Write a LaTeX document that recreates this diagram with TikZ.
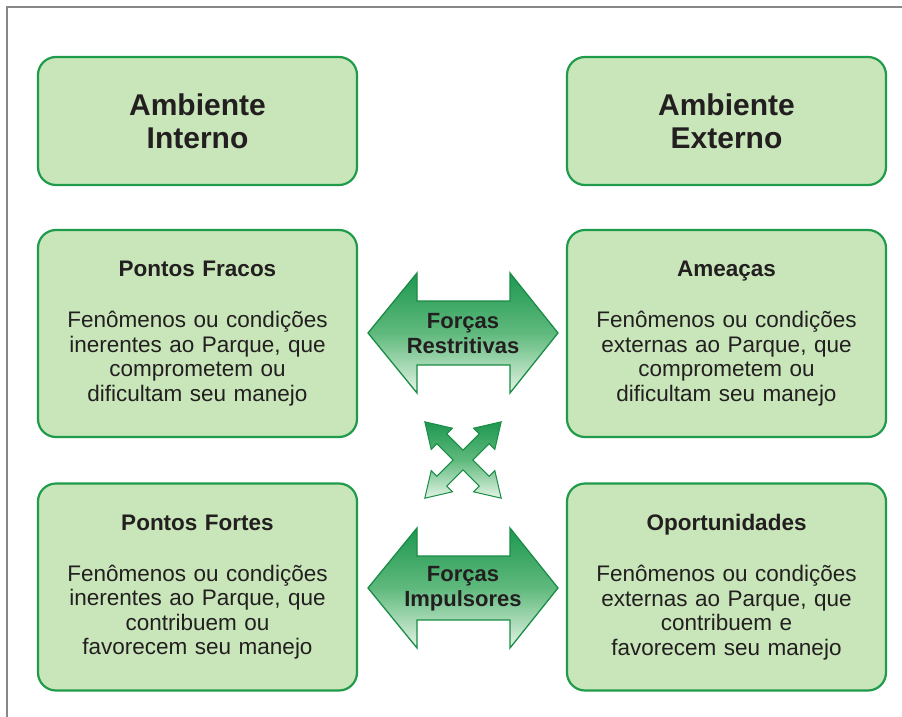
\documentclass[tikz,border=0pt]{standalone}
\usepackage{fontspec}
\setmainfont{Liberation Sans}
\definecolor{boxfill}{RGB}{200,230,185}
\definecolor{boxline}{RGB}{32,155,75}
\definecolor{arrtop}{RGB}{30,152,80}
\definecolor{arrmid}{RGB}{95,185,125}
\definecolor{arrbot}{RGB}{228,244,228}
\definecolor{arrowline}{RGB}{25,140,70}
\definecolor{txt}{RGB}{35,31,32}
\definecolor{framec}{RGB}{135,135,135}
\begin{document}
\begin{tikzpicture}[x=1pt,y=-1pt,
  box/.style={draw=boxline, line width=2.2pt, fill=boxfill, rounded corners=18pt,
    minimum width=319pt, text width=305pt, align=center, inner sep=0pt, text=txt},
  headbox/.style={font=\fontsize{30}{33}\selectfont\bfseries, minimum height=128pt},
  infobox/.style={font=\fontsize{22.5}{24.5}\selectfont, minimum height=207pt},
  force/.style={draw=arrowline, line width=1.3pt, top color=arrtop, bottom color=arrbot, middle color=arrmid},
  forcetext/.style={font=\fontsize{22}{25}\selectfont\bfseries, align=center, text=txt, inner sep=0pt},
  frameline/.style={draw=framec, line width=1.8pt},
  xf/.style={shift={(463,460)}, rotate=45}
]
\useasboundingbox (0,0) rectangle (902,717);
\draw[frameline] (7,717) -- (7,7) -- (902,7);

% top boxes
\node[box,headbox] (ai) at (197.5,121) {Ambiente\\Interno};
\node[box,headbox] (ae) at (726.5,121) {Ambiente\\Externo};

% middle boxes
\node[box,infobox] (pfr) at (197.5,333.5) {\textbf{Pontos Fracos}\\[26.5pt]Fenômenos ou condições\\inerentes ao Parque, que\\comprometem ou\\dificultam seu manejo};
\node[box,infobox] (am) at (726.5,333.5) {\textbf{Ameaças}\\[26.5pt]Fenômenos ou condições\\externas ao Parque, que\\comprometem ou\\dificultam seu manejo};

% bottom boxes
\node[box,infobox] (pfo) at (197.5,587) {\textbf{Pontos Fortes}\\[26.5pt]Fenômenos ou condições\\inerentes ao Parque, que\\contribuem ou\\favorecem seu manejo};
\node[box,infobox] (op) at (726.5,587) {\textbf{Oportunidades}\\[26.5pt]Fenômenos ou condições\\externas ao Parque, que\\contribuem e\\favorecem seu manejo};

% Forças Restritivas
\path[force] (368,333) -- (417,273) -- (417,301) -- (510,301) -- (510,273) -- (558,333)
  -- (510,393) -- (510,365) -- (417,365) -- (417,393) -- cycle;
\node[forcetext] (fres) at (463,334) {Forças\\Restritivas};

% Forças Impulsores
\path[force] (368,588) -- (417,528) -- (417,556) -- (510,556) -- (510,528) -- (558,588)
  -- (510,648) -- (510,620) -- (417,620) -- (417,648) -- cycle;
\node[forcetext] (fimp) at (463,589) {Forças\\Impulsores};

% cross arrows
\path[force, line width=1pt]
  ([xf]7,7) -- ([xf]30,7) -- ([xf]30,15) -- ([xf]54,0) -- ([xf]30,-15) -- ([xf]30,-7)
  -- ([xf]7,-7) -- ([xf]7,-30) -- ([xf]15,-30) -- ([xf]0,-54) -- ([xf]-15,-30) -- ([xf]-7,-30)
  -- ([xf]-7,-7) -- ([xf]-30,-7) -- ([xf]-30,-15) -- ([xf]-54,0) -- ([xf]-30,15) -- ([xf]-30,7)
  -- ([xf]-7,7) -- ([xf]-7,30) -- ([xf]-15,30) -- ([xf]0,54) -- ([xf]15,30) -- ([xf]7,30) -- cycle;
\end{tikzpicture}
\end{document}
